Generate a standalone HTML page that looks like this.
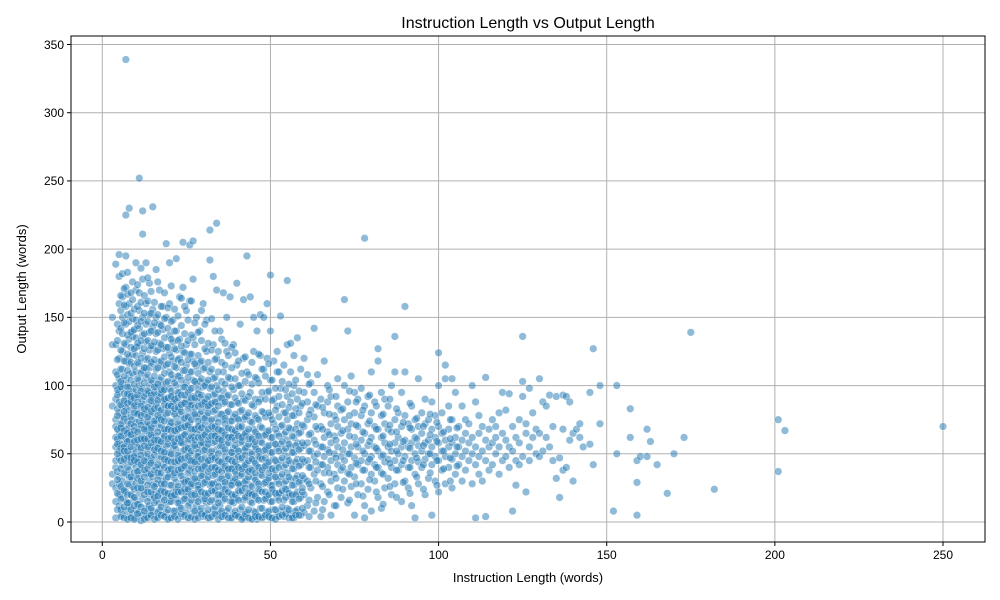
<!DOCTYPE html>
<html><head><meta charset="utf-8"><style>
html,body{margin:0;padding:0;background:#fff;}
svg{display:block;font-family:"Liberation Sans","DejaVu Sans",sans-serif;}
</style></head><body>
<svg id="chart" width="1000" height="600" viewBox="0 0 1000 600" xmlns="http://www.w3.org/2000/svg"></svg>
<script>
const xTicks=[0,50,100,150,200,250];
const yTicks=[0,50,100,150,200,250,300,350];
const colX=[3,4,5,6,7,8,9,10,11,12,13,14,15,16,17,18,19,20,21,22,23,24,25,26,27,28,29,30,31,32,33,34,35,36,37,38,39,40,41,42,43,44,45,46,47,48,49,50,51,52,53,54,55,56,57,58,59,60,61,62,63,64,65,66,67,68,69,70,71,72,73,74,75,76,77,78,79,80,81,82,83,84,85,86,87,88,89,90,91,92,93,94,95,96,97,98,99,100,101,102,103,104,105,106,107,108,109,110,111,112,113,114,115,116,117,118,119,120,121,122,123,124,125,126,127,128,129,130,131,132,133,134,135,136,137,138,139,140,141,142,143,145,146,148,152,153,157,159,160,162,163,165,168,170,173,175,182,201,203,250];
const colY=[
[130,85,35,28,150],
[3,15,25,40,55,62,75,90,100,110,130,189,45,70],
[12,20,33,47,58,66,80,95,105,120,140,160,180,196,28,52,88],
[5,18,30,42,50,63,72,85,98,112,125,138,150,165,182,24,57,77,101],
[8,22,35,45,55,68,79,90,104,118,130,145,158,172,195,225,339,15,61,84],
[4,14,27,38,49,60,70,82,94,108,121,134,147,160,230,11,33,66,99,116],
[6,19,31,43,53,64,75,87,96,109,123,136,149,163,176,26,58,92,140],
[3,16,28,40,51,62,73,85,97,110,122,135,148,170,190,9,47,81,128],
[7,21,34,46,57,68,80,92,104,116,129,142,155,168,252,13,38,74,100],
[5,17,29,41,52,63,74,86,98,111,124,137,150,178,211,228,24,60,89],
[10,23,36,48,59,70,82,94,106,119,132,145,160,190,4,44,67,113],
[6,18,30,42,54,65,77,88,100,113,126,139,152,175,12,35,71,95],
[8,20,33,45,56,68,80,91,103,116,129,143,156,231,27,62,85],
[4,16,28,40,52,63,75,87,99,112,125,138,150,185,22,58,93],
[9,21,34,46,57,69,81,92,104,117,131,145,170,14,39,76],
[5,18,30,42,53,65,77,89,101,114,127,141,158,25,61,96],
[7,20,32,44,56,67,79,90,102,115,128,150,204,13,48,84],
[3,15,27,39,51,62,74,86,98,110,124,137,160,190,35,70],
[8,22,35,47,58,70,81,93,105,118,132,148,19,55,88],
[5,17,29,41,53,64,76,88,100,113,126,140,193,24,67],
[10,23,36,48,59,71,83,95,107,120,134,165,14,44,79],
[4,16,28,40,52,63,75,87,99,111,125,172,205,31,58],
[7,19,31,43,55,66,78,90,102,115,130,155,22,70],
[3,14,26,38,50,61,73,85,97,110,123,162,203,45,88],
[9,21,33,45,57,68,80,92,104,118,135,178,206,27,62],
[5,17,30,42,54,65,77,89,101,114,150,12,48],
[8,20,32,44,56,67,79,91,103,117,140,25,71],
[4,16,28,40,52,63,75,87,99,112,160,35,58],
[6,19,31,43,55,66,78,90,102,125,148,14,84],
[3,15,27,39,51,62,74,86,98,110,214,192,45],
[9,22,34,46,58,69,81,93,105,130,180,28,66],
[5,17,29,41,53,64,76,88,100,120,219,170,37],
[7,20,32,44,56,67,79,91,140,12,60],
[4,16,28,40,52,63,75,87,110,168,24,96],
[8,21,33,45,57,68,80,92,125,150,38],
[3,15,27,39,51,62,74,86,105,165,30],
[6,18,30,42,54,65,77,97,130,14,48],
[5,17,29,41,53,64,76,88,115,175,35],
[9,22,34,46,58,69,81,100,145,27],
[4,16,28,40,52,63,75,90,120,163,3],
[7,19,31,43,55,66,78,110,195,38],
[3,15,27,39,51,62,74,95,165,22],
[8,21,33,45,57,68,85,125,150],
[5,17,29,41,53,64,76,105,140,2],
[10,23,35,47,59,70,90,122,152],
[4,16,28,40,52,63,80,112,150],
[7,19,31,43,55,66,95,120,160],
[3,15,27,39,51,62,78,104,181,140],
[9,22,34,46,58,72,90,118],
[5,18,30,42,54,65,85,110,125],
[8,21,33,45,57,70,98,151],
[4,16,28,40,52,64,80,115],
[10,24,36,48,60,75,92,130,177],
[6,19,31,43,55,68,88,110,131],
[3,15,27,39,51,62,78,100,122],
[9,22,34,46,58,72,90,135],
[5,18,30,42,54,66,85,112],
[7,20,32,44,56,70,95,120],
[12,30,45,58,75,88,108],
[25,40,52,65,82,102],
[8,35,48,60,77,95,142],
[18,38,50,68,85,108],
[28,42,55,70,90,4],
[15,36,48,62,80,118],
[22,40,53,66,88,100],
[30,45,58,72,92,5],
[12,35,50,63,78],
[25,42,55,70,85,105],
[18,38,48,65,82],
[30,45,58,75,163,100],
[14,36,50,68,88,140],
[26,40,55,72,107],
[5,33,47,62,80,95],
[20,42,55,70,90],
[28,45,60,78,98],
[12,38,50,65,85,208,3],
[24,44,56,72,92],
[8,35,48,62,80,110],
[30,42,55,70,88],
[18,40,52,68,127,118],
[10,36,48,62,78,95],
[25,44,58,72,90],
[32,46,55,68,85],
[20,40,52,66,100],
[28,45,58,75,136,110],
[38,50,62,80],
[15,42,55,70,95],
[30,48,60,78,158,110],
[25,40,55,72],
[12,45,58,68,85],
[35,50,62,75,3],
[28,44,56,70,105],
[40,52,65,80],
[20,46,58,72,90],
[32,50,60,75],
[5,42,55,68,88],
[30,48,62,78],
[22,45,58,70,124,100],
[38,52,65,80],
[28,48,60,115,105],
[40,55,68,85],
[25,46,58,75,105],
[35,50,62,95],
[42,55,70],
[30,48,60,85],
[38,52,65,75],
[45,58,72],
[28,50,62,100],
[3,42,55,88],
[35,48,65,78],
[30,52,70],
[45,60,106,4],
[38,55,68],
[42,58,75],
[50,62,70],
[35,55,80],
[45,65,95],
[48,60,82],
[40,55,94],
[8,52,70],
[27,45,62],
[42,58,75],
[48,92,136,103],
[22,65,72],
[45,55,98],
[62,80],
[50,68],
[48,65,105],
[52,88],
[62,85],
[55,93],
[45,70],
[32,92],
[18,47],
[38,68,93],
[40,92],
[60,88],
[30,65],
[68],
[62,72],
[55],
[57,95],
[127,42],
[100,72],
[8],
[100,50],
[83,62],
[5,29,45],
[48],
[48,68],
[59],
[42],
[21],
[50],
[62],
[139],
[24],
[75,37],
[67],
[70]
];
// denser core samples at half-word instruction lengths
const coreX=[4.5,5.5,6.5,7.5,8.5,9.5,10.5,11.5,12.5,13.5,14.5,15.5,16.5,17.5,18.5,19.5,20.5,21.5,22.5,23.5,24.5,25.5,26.5,27.5,28.5,29.5,30.5,31.5,32.5,33.5,34.5,35.5,36.5,37.5,38.5,39.5,40.5,41.5,42.5,43.5,44.5,45.5,46.5,47.5,48.5,49.5,50.5,51.5,52.5,53.5,54.5,55.5,56.5,57.5,58.5,59.5,61.5,63.5,65.5,67.5,69.5,71.5,73.5,75.5,77.5,79.5,81.5,83.5,85.5,87.5,89.5,91.5,93.5,95.5,97.5,99.5,101.5,103.5,105.5];
const coreY=[
[9,21,37,50,61,68,83,93,108,119,133,145,31,57,78,97],
[4,17,26,39,45,54,63,72,86,99,112,126,142,155,166,9,69,103],
[11,23,36,46,55,67,76,89,94,107,118,131,146,159,171,3,52,81],
[2,14,28,40,48,59,65,74,87,99,111,123,137,152,167,183,20,52,94],
[9,20,33,44,55,64,77,88,92,104,117,128,139,153,168,3,47,72],
[12,24,36,48,59,70,80,91,101,114,127,141,156,2,18,45,67,85],
[6,13,25,37,44,55,66,79,88,93,105,117,131,144,158,174,32,60],
[1,11,25,30,42,54,61,71,85,96,109,120,133,147,161,186,49,78],
[8,20,33,45,56,68,79,92,102,113,127,138,153,166,2,38,61,83],
[3,15,27,39,50,61,73,84,96,108,120,133,147,162,179,22,55,77],
[10,22,35,47,58,69,81,93,104,117,129,140,153,169,5,43,64,89],
[2,14,26,38,49,60,72,83,95,107,119,132,146,161,18,53,74,99],
[7,19,31,42,54,66,78,89,101,113,126,139,152,176,3,36,60,84],
[11,23,36,48,59,71,82,94,106,118,130,144,158,5,28,52,75,97],
[4,16,28,40,51,63,74,86,97,109,121,135,149,168,22,46,68,90],
[9,21,33,45,57,68,80,91,103,116,128,142,157,2,38,61,85],
[3,15,27,39,50,62,73,85,96,108,121,134,147,173,19,44,67,92],
[8,20,32,44,56,67,79,90,102,114,127,140,156,4,36,59,83],
[2,14,26,38,49,61,72,84,95,107,119,133,151,22,45,68,91],
[10,22,34,46,58,69,81,93,104,117,129,144,164,6,39,62,86],
[5,17,29,41,53,64,76,87,99,111,124,138,158,24,47,70,93],
[12,24,36,48,60,71,83,95,106,119,133,148,3,30,54,77],
[4,16,28,40,52,63,75,86,98,110,123,137,162,20,45,68,91],
[8,20,32,44,56,68,79,91,103,116,130,146,2,37,60,84],
[3,15,27,39,51,62,74,85,97,109,122,139,24,48,70,94],
[10,22,34,46,58,69,81,93,105,118,133,155,6,39,62,86],
[5,17,29,41,53,64,76,88,100,113,127,145,21,47,71],
[9,21,33,45,57,68,80,92,104,117,131,3,37,60,85],
[4,16,28,40,52,63,75,87,99,112,126,149,23,48,70],
[11,23,35,47,59,70,82,94,106,119,140,6,40,63,88],
[2,14,26,38,50,61,73,85,97,110,125,20,45,68],
[8,20,32,44,56,67,79,91,103,117,134,4,37,60],
[5,17,29,41,53,64,76,88,101,115,131,24,48,72],
[10,22,34,46,58,69,81,93,106,122,3,39,62],
[3,15,27,39,51,62,74,86,99,113,128,20,45,68],
[8,20,32,44,56,67,79,91,105,124,5,37,60],
[4,16,28,40,52,63,75,87,100,118,23,48,70],
[11,23,35,47,59,70,82,94,109,2,39,62],
[6,18,30,42,54,65,77,89,103,121,25,49],
[9,21,33,45,57,68,80,92,108,3,37,61],
[2,14,26,38,50,61,73,86,101,117,20,46],
[7,19,31,43,55,66,78,90,106,4,36,59],
[4,16,28,40,52,63,75,88,102,123,24,48],
[10,22,34,46,58,69,81,95,112,3,38],
[5,17,29,41,53,64,77,90,107,22,47],
[8,20,32,44,56,67,80,96,116,4,36],
[3,15,27,39,51,62,75,89,104,24],
[9,21,33,45,57,68,82,98,2,38],
[4,16,28,40,52,63,77,92,110,21],
[11,23,35,47,59,71,86,103,5],
[6,18,30,42,54,66,80,97,24],
[9,21,33,45,57,69,84,101,3],
[3,15,27,39,51,63,78,94,20],
[8,20,32,44,56,68,83,104,5],
[5,17,29,41,53,65,80,96],
[10,22,34,46,58,71,87,25],
[4,16,28,40,52,64,79,101],
[14,30,44,57,70,86],
[9,26,42,55,68,84],
[20,36,51,64,79,97],
[12,32,47,60,75,92],
[24,40,53,67,83],
[16,35,50,63,78,96],
[28,43,57,71,88],
[19,38,52,66,82],
[31,46,59,74,93],
[22,40,54,68,85],
[13,35,49,63,79],
[26,43,57,71,90],
[18,38,52,66,83],
[29,45,59,73],
[21,40,54,69,87],
[33,47,61,76],
[24,42,56,70],
[36,50,64,79],
[27,45,59,73],
[39,52,66],
[30,47,61,75],
[41,55,69]
];
const NS='http://www.w3.org/2000/svg';
const svg=document.getElementById('chart');
const L=71,R=985,T=36,B=542;
const xScale=v=>102.3+v*(943-102.3)/250;
const yScale=v=>522+(44.5-522)*v/350;
function mk(tag,attrs,parent){const e=document.createElementNS(NS,tag);for(const k in attrs)e.setAttribute(k,attrs[k]);(parent||svg).appendChild(e);return e;}
const grid=mk('g',{});


xTicks.forEach(t=>{const l=mk('line',{x1:xScale(t),x2:xScale(t),y1:T,y2:B,stroke:'#b0b0b0','stroke-width':1},grid);

});
yTicks.forEach(t=>{const l=mk('line',{x1:L,x2:R,y1:yScale(t),y2:yScale(t),stroke:'#b0b0b0','stroke-width':1},grid);

});
const pts=mk('g',{fill:'#1f77b4','fill-opacity':0.5,stroke:'#fff','stroke-width':0.5,'stroke-opacity':0.7});


function plotCols(xs,ys){xs.forEach((x,i)=>{ys[i].forEach(y=>{const c=mk('circle',{cx:xScale(x),cy:yScale(y),r:3.8},pts);

});});}
plotCols(colX,colY);
plotCols(coreX,coreY);
const frame=mk('rect',{x:L,y:T,width:R-L,height:B-T,fill:'none',stroke:'#000','stroke-width':1});


xTicks.forEach(t=>{const g=mk('g',{});


mk('line',{x1:xScale(t),x2:xScale(t),y1:B,y2:B+4,stroke:'#000'},g);
const tx=mk('text',{x:xScale(t),y:B+17,'text-anchor':'middle','font-size':12,fill:'#000'},g);tx.textContent=t;});
yTicks.forEach(t=>{const g=mk('g',{});


mk('line',{x1:L-4,x2:L,y1:yScale(t),y2:yScale(t),stroke:'#000'},g);
const tx=mk('text',{x:L-7,y:yScale(t)+4.3,'text-anchor':'end','font-size':12,fill:'#000'},g);tx.textContent=t;});
const title=mk('text',{x:528,y:28,'text-anchor':'middle','font-size':16,fill:'#000'});title.textContent='Instruction Length vs Output Length';


const xl=mk('text',{x:528,y:582,'text-anchor':'middle','font-size':13,fill:'#000'});xl.textContent='Instruction Length (words)';


const yl=mk('text',{x:0,y:0,'text-anchor':'middle','font-size':13,fill:'#000',transform:'translate(26,289) rotate(-90)'});yl.textContent='Output Length (words)';


</script>
</body></html>
